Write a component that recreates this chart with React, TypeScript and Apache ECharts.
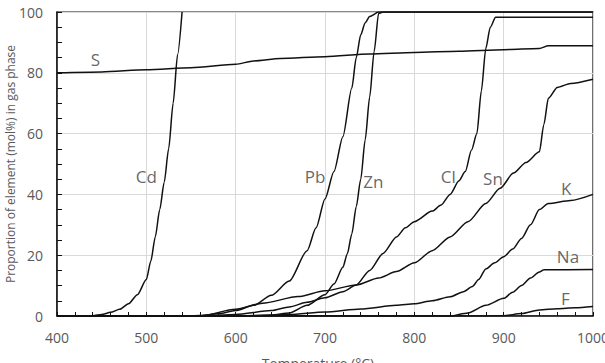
import React, { useEffect, useRef } from "react";
import * as echarts from "echarts";

// Gas-phase fraction (mol%) of each element versus temperature (°C)
const cd: [number, number][] = [
  [400, 0], [430, 0], [440, 0.1], [450, 0.5], [460, 1.2], [470, 2.2], [480, 4], [490, 7],
  [500, 12], [505, 18], [510, 26], [515, 35], [520, 44], [525, 55], [530, 70], [535, 86], [540, 100],
];
const s: [number, number][] = [
  [400, 80], [450, 80.3], [500, 81], [550, 81.7], [600, 82.8], [620, 83.9], [650, 84.7],
  [700, 85.3], [750, 86.2], [800, 86.7], [850, 87.1], [900, 87.6], [940, 88], [950, 88.9], [1000, 88.9],
];
const pb: [number, number][] = [
  [400, 0], [540, 0], [560, 0.2], [580, 0.7], [600, 1.8], [620, 3.5], [640, 6.8], [660, 11.5],
  [680, 21.5], [690, 29], [700, 38.5], [710, 47.5], [720, 59], [730, 75], [735, 85], [740, 92.5],
  [745, 96.5], [750, 98.5], [760, 100], [1000, 100],
];
const zn: [number, number][] = [
  [400, 0], [600, 0], [640, 0.3], [660, 1], [680, 3.5], [700, 7], [710, 10.5], [720, 16],
  [725, 20.5], [730, 27], [735, 36], [740, 45], [745, 58], [750, 72], [755, 87], [760, 99.5], [765, 100], [1000, 100],
];
const cl: [number, number][] = [
  [400, 0], [560, 0], [600, 0.5], [640, 1.8], [660, 3], [680, 4.5], [700, 6], [720, 8],
  [735, 10.2], [750, 15], [765, 20.6], [780, 26], [790, 29], [800, 31], [820, 34.5], [830, 36.5],
  [840, 40], [850, 44.5], [857, 47.5], [864, 54.6], [870, 60], [875, 74], [880, 88], [885, 95],
  [891, 98.3], [1000, 98.3],
];
const sn: [number, number][] = [
  [400, 0], [560, 0], [600, 2.2], [630, 4.2], [670, 6.4], [700, 8.3], [735, 10.2], [760, 12.5],
  [780, 14.6], [800, 17.5], [820, 21.5], [840, 26], [860, 31], [880, 37], [896, 42], [911, 47],
  [925, 50.5], [940, 54], [945, 63], [950, 71.6], [960, 75.2], [975, 76.5], [1000, 77.9],
];
const k: [number, number][] = [
  [400, 0], [620, 0], [660, 0.5], [700, 1.3], [740, 2.3], [780, 3.5], [800, 4], [820, 5],
  [840, 6.3], [855, 8], [865, 9.7], [872, 12], [880, 15.5], [890, 17.5], [900, 19.5], [910, 22],
  [920, 25.5], [930, 30], [940, 35], [950, 37], [975, 38], [1000, 40],
];
const na: [number, number][] = [
  [400, 0], [840, 0], [860, 1], [880, 3.5], [900, 5.8], [910, 7.8], [920, 10], [930, 12.5],
  [940, 14.5], [945, 15.2], [1000, 15.3],
];
const f: [number, number][] = [
  [400, 0], [880, 0], [900, 0.1], [920, 0.8], [940, 2], [960, 2.4], [980, 2.7], [1000, 3.1],
];

const seriesNames = ["Cd", "S", "Pb", "Zn", "Cl", "Sn", "K", "Na", "F"];
const seriesData = [cd, s, pb, zn, cl, sn, k, na, f];

// Curve labels, placed in data coordinates
const labelNames = ["S", "Cd", "Pb", "Zn", "Cl", "Sn", "K", "Na", "F"];
const labelPoints: [number, number][] = [
  [443, 84.5], [500, 45.8], [689, 45.8], [754, 44.2], [838, 45.8], [888, 45.3], [970, 42], [972, 19.5], [969, 5.8],
];

const font = "'Open Sans', 'Noto Sans', sans-serif";

export default function App() {
  const ref = useRef<HTMLDivElement>(null);

  useEffect(() => {
    if (!ref.current) return;
    const chart = echarts.init(ref.current, undefined, { renderer: "svg" });

    const lines = seriesData.map((d, i) => ({
      name: seriesNames[i],
      type: "line" as const,
      data: d,
      showSymbol: false,
      symbol: "none",
      smooth: 0.25,
      smoothMonotone: "x" as const,
      lineStyle: { color: "#111", width: 1.5 },
      clip: true,
      z: 3,
    }));

    chart.setOption({
      animation: false,
      backgroundColor: "#fff",
      grid: {
        left: 57,
        right: 12,
        top: 12,
        bottom: 47,
        outerBoundsMode: "none",
        containLabel: false,
        show: true,
        borderColor: "#111",
        borderWidth: 1.2,
        backgroundColor: "transparent",
      },
      xAxis: {
        type: "value",
        min: 400,
        max: 1000,
        interval: 100,
        name: "Temperature (°C)",
        nameLocation: "middle",
        nameGap: 40,
        nameMoveOverlap: false,
        nameTextStyle: { fontFamily: font, fontSize: 14, color: "#595959", padding: [0, 14, 0, 0] },
        axisLine: { show: true, onZero: false, lineStyle: { color: "#111", width: 1.5 } },
        axisTick: { show: true, inside: true, length: 4, lineStyle: { color: "#111" } },
        minorTick: { show: true, splitNumber: 5, length: 4, lineStyle: { color: "#111" } },
        axisLabel: {
          fontFamily: font,
          fontSize: 14,
          color: "#595959",
          margin: 14,
          formatter: (v: number) => String(v),
        },
        splitLine: { show: true, lineStyle: { color: "#d9d9d9", width: 1 } },
      },
      yAxis: {
        type: "value",
        min: 0,
        max: 100,
        interval: 20,
        name: "Proportion of element (mol%) in gas phase",
        nameLocation: "middle",
        nameGap: 41,
        nameMoveOverlap: false,
        nameTextStyle: { fontFamily: font, fontSize: 12, color: "#595959" },
        axisLine: { show: true, lineStyle: { color: "#111", width: 1.5 } },
        axisTick: { show: true, inside: true, length: 5, lineStyle: { color: "#111" } },
        minorTick: { show: true, splitNumber: 4, length: 5, lineStyle: { color: "#111" } },
        axisLabel: { fontFamily: font, fontSize: 14, color: "#595959", margin: 14 },
        splitLine: { show: true, lineStyle: { color: "#d9d9d9", width: 1 } },
      },
      series: [
        ...lines,
        {
          type: "scatter",
          symbolSize: 0,
          silent: true,
          data: labelPoints.map((p, i) => ({ value: p, name: labelNames[i] })),
          label: {
            show: true,
            position: "inside",
            formatter: (p: any) => p.name,
            fontFamily: font,
            fontSize: 17,
            color: "#404040",
          },
          z: 5,
        },
      ],
    });

    return () => chart.dispose();
  }, []);

  return <div ref={ref} style={{ width: 605, height: 363, position: "absolute", left: 0, top: 0 }} />;
}
